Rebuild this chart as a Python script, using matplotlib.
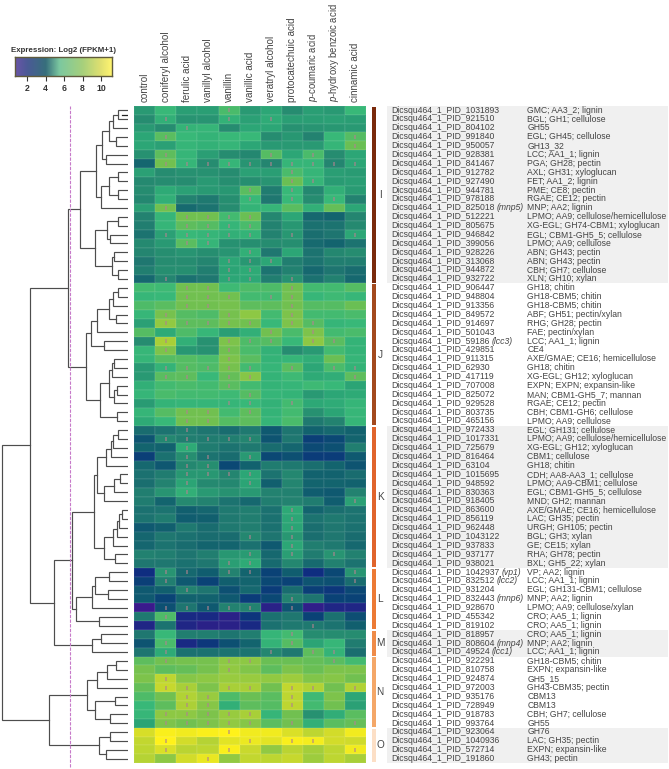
import numpy as np
import matplotlib
matplotlib.use("Agg")
import matplotlib.pyplot as plt
from matplotlib.colors import LinearSegmentedColormap

plt.rcParams["font.family"] = ["Liberation Sans", "DejaVu Sans"]
plt.rcParams["mathtext.fontset"] = "custom"
plt.rcParams["mathtext.rm"] = "Liberation Sans"
plt.rcParams["mathtext.it"] = "Liberation Sans:italic"
plt.rcParams["mathtext.bf"] = "Liberation Sans:bold"

W, H = 669, 769

# ---------------------------------------------------------------------------
# Data
# ---------------------------------------------------------------------------
conditions = ["control", "coniferyl alcohol", "ferulic acid", "vanillyl alcohol",
              "vanillin", "vanillic acid", "veratryl alcohol", "protocatechuic acid",
              r"$\it{p}$-coumaric acid", r"$\it{p}$-hydroxy benzoic acid", "cinnamic acid"]

cluster_names = ["I", "J", "K", "L", "M", "N", "O"]
cluster_sizes = [20, 16, 16, 7, 3, 8, 4]
cluster_colors = ["#7a2a0c", "#a3491d", "#e0642c", "#ec7a35", "#ef8b48", "#f4a768", "#fcdfc6"]

heat_I = [
    [5.5, 7.0, 5.7, 5.7, 7.3, 5.5, 6.0, 5.0, 5.7, 5.5, 7.0],
    [5.0, 6.5, 5.3, 5.3, 6.6, 5.8, 6.3, 5.7, 5.7, 5.8, 5.7],
    [5.5, 5.0, 6.7, 6.8, 5.0, 6.0, 6.0, 5.2, 5.3, 5.4, 5.5],
    [6.0, 7.6, 7.0, 6.7, 7.0, 7.0, 5.0, 5.4, 4.6, 7.0, 7.5],
    [6.0, 5.8, 6.8, 6.6, 6.8, 6.0, 5.5, 5.5, 5.5, 6.8, 7.9],
    [5.2, 7.7, 6.8, 5.7, 5.0, 4.8, 7.5, 6.0, 7.3, 5.0, 6.0],
    [3.3, 8.0, 6.8, 5.0, 6.8, 5.3, 4.7, 6.8, 6.8, 4.7, 6.0],
    [5.8, 5.0, 5.2, 5.2, 5.0, 5.8, 5.7, 7.3, 6.8, 5.7, 5.6],
    [4.9, 5.0, 5.0, 5.5, 5.1, 5.1, 5.3, 7.9, 6.8, 5.6, 5.7],
    [5.0, 6.2, 5.8, 5.5, 5.4, 7.6, 4.3, 7.0, 4.8, 6.5, 5.6],
    [4.8, 6.5, 4.6, 4.2, 5.1, 7.0, 4.1, 7.0, 5.0, 7.0, 4.6],
    [5.7, 8.0, 3.5, 3.9, 5.0, 6.7, 6.8, 7.6, 6.5, 7.8, 6.0],
    [4.6, 6.8, 8.0, 8.0, 7.2, 7.9, 4.8, 6.0, 3.4, 3.2, 4.7],
    [4.4, 6.8, 7.7, 7.5, 6.8, 7.3, 4.6, 5.4, 3.8, 3.9, 4.9],
    [3.9, 5.8, 7.0, 6.8, 6.5, 6.7, 4.6, 5.4, 3.7, 4.0, 6.0],
    [4.9, 5.5, 7.6, 6.8, 5.2, 5.1, 5.0, 5.1, 3.5, 3.2, 3.9],
    [4.7, 5.1, 5.3, 5.1, 5.3, 6.5, 4.1, 6.0, 3.9, 4.8, 5.0],
    [4.1, 5.0, 5.0, 4.7, 6.0, 5.4, 6.0, 4.4, 3.9, 4.4, 4.4],
    [4.4, 5.1, 5.1, 4.4, 5.9, 6.2, 3.9, 4.5, 3.4, 4.0, 3.6],
    [3.4, 4.7, 3.8, 4.1, 6.0, 6.1, 4.4, 5.2, 3.8, 4.5, 3.4],
]
heat_J = [
    [7.2, 7.1, 8.0, 8.0, 7.1, 7.4, 7.4, 8.0, 7.2, 7.2, 7.5],
    [6.9, 7.0, 8.0, 8.0, 8.0, 7.2, 7.2, 8.0, 6.9, 7.1, 6.9],
    [7.4, 7.6, 8.0, 8.0, 8.1, 7.7, 7.7, 8.0, 7.5, 7.5, 7.9],
    [6.9, 8.1, 7.5, 7.4, 8.1, 8.5, 7.2, 8.2, 7.2, 7.2, 7.3],
    [5.8, 8.6, 7.7, 7.7, 8.1, 8.0, 7.0, 8.2, 7.5, 6.8, 7.0],
    [7.5, 6.2, 7.4, 6.9, 5.7, 6.5, 8.0, 7.3, 8.2, 7.2, 7.3],
    [5.0, 9.0, 6.5, 5.2, 8.2, 7.4, 7.5, 7.0, 8.5, 7.6, 6.7],
    [6.9, 8.2, 5.4, 5.2, 8.0, 7.3, 6.6, 5.0, 5.5, 7.2, 6.7],
    [6.8, 7.5, 7.5, 7.3, 8.2, 7.6, 6.7, 6.8, 6.4, 7.9, 6.8],
    [5.5, 6.7, 7.5, 7.4, 8.1, 7.2, 6.8, 7.6, 6.0, 7.3, 6.7],
    [5.5, 7.6, 7.7, 7.0, 7.8, 8.4, 6.7, 7.1, 6.2, 6.4, 7.7],
    [6.5, 7.2, 7.3, 7.2, 7.6, 7.2, 6.7, 6.8, 7.1, 7.0, 5.9],
    [6.8, 7.3, 7.2, 7.2, 7.1, 7.5, 6.8, 6.7, 5.5, 6.0, 6.2],
    [5.6, 6.7, 6.8, 6.8, 6.8, 7.0, 6.6, 7.2, 6.1, 6.3, 6.8],
    [6.8, 7.5, 8.0, 8.0, 7.2, 7.7, 6.7, 7.2, 5.2, 5.9, 6.9],
    [6.2, 7.0, 8.0, 8.0, 7.5, 7.7, 6.8, 7.3, 4.2, 4.6, 6.8],
]
heat_K = [
    [3.6, 3.9, 4.4, 4.0, 3.6, 4.2, 2.8, 4.0, 3.1, 3.4, 3.1],
    [2.6, 4.8, 4.4, 4.3, 4.4, 4.7, 2.6, 4.1, 1.9, 2.2, 3.2],
    [3.2, 3.1, 6.2, 4.3, 3.9, 4.2, 3.6, 3.3, 2.3, 2.5, 4.4],
    [1.9, 3.8, 5.1, 3.9, 3.6, 5.5, 2.2, 2.5, 1.8, 1.8, 2.8],
    [3.4, 2.7, 4.8, 5.1, 2.2, 3.1, 4.3, 4.2, 3.7, 3.2, 2.6],
    [3.8, 4.3, 5.4, 5.4, 4.7, 6.0, 3.9, 4.8, 3.1, 3.1, 3.6],
    [3.7, 4.6, 5.9, 4.9, 4.8, 5.9, 3.0, 4.7, 3.2, 3.2, 3.1],
    [4.4, 5.3, 6.5, 5.5, 5.2, 5.5, 4.6, 4.5, 2.9, 2.8, 4.6],
    [4.3, 3.2, 4.9, 4.6, 3.9, 3.4, 4.4, 4.6, 4.3, 2.9, 5.8],
    [3.8, 3.9, 3.0, 3.3, 4.2, 4.4, 3.8, 6.1, 3.2, 3.7, 3.9],
    [3.9, 4.3, 2.9, 3.0, 4.2, 4.4, 3.8, 6.0, 3.9, 4.2, 3.9],
    [2.8, 3.0, 4.2, 3.6, 4.2, 4.4, 3.8, 5.9, 3.7, 4.1, 3.8],
    [3.3, 4.1, 3.8, 3.6, 3.6, 4.8, 4.0, 5.4, 3.7, 4.1, 3.6],
    [3.3, 3.9, 3.6, 3.2, 3.2, 3.8, 2.8, 6.0, 4.4, 4.2, 3.4],
    [4.5, 4.4, 4.0, 4.4, 5.4, 5.6, 3.4, 5.7, 4.3, 5.3, 4.5],
    [4.1, 4.1, 3.8, 4.1, 5.7, 6.2, 3.5, 4.8, 3.5, 4.5, 3.9],
]
heat_L = [
    [1.2, 5.3, 3.4, 2.9, 4.6, 3.2, 2.0, 2.9, 1.2, 2.2, 5.3],
    [1.9, 4.4, 2.8, 2.0, 3.0, 3.2, 2.2, 2.0, 2.6, 2.5, 3.6],
    [2.8, 3.0, 4.6, 4.0, 2.5, 3.4, 1.8, 3.6, 1.9, 1.6, 2.2],
    [2.8, 2.1, 3.1, 3.1, 2.8, 1.8, 2.2, 4.6, 4.0, 2.0, 2.0],
    [0.7, 2.5, 4.0, 2.8, 4.6, 4.6, 0.9, 2.6, 0.8, 1.0, 1.0],
    [4.2, 7.4, 1.1, 1.1, 0.9, 1.5, 3.8, 4.1, 2.0, 3.8, 2.4],
    [1.0, 3.9, 1.0, 0.9, 0.9, 1.1, 3.8, 4.2, 4.2, 3.9, 3.0],
]
heat_M = [
    [4.1, 7.0, 4.4, 4.4, 4.0, 4.4, 6.8, 7.2, 5.0, 5.0, 5.0],
    [2.6, 7.3, 1.1, 1.6, 2.5, 3.2, 6.7, 7.5, 5.9, 6.9, 4.3],
    [4.0, 6.2, 3.8, 3.8, 3.9, 3.9, 4.8, 4.2, 7.7, 6.7, 3.7],
]
heat_N = [
    [7.7, 8.0, 8.1, 8.1, 8.5, 8.5, 7.9, 7.9, 7.8, 7.6, 7.2],
    [8.1, 7.7, 7.8, 8.1, 8.6, 8.3, 7.7, 8.2, 7.9, 8.2, 8.2],
    [8.2, 9.5, 8.4, 8.5, 8.7, 8.7, 8.6, 8.8, 8.3, 8.4, 8.0],
    [7.8, 9.7, 9.0, 8.2, 9.0, 9.0, 8.0, 9.6, 9.2, 8.0, 9.2],
    [7.4, 8.0, 9.2, 8.7, 7.4, 7.9, 7.6, 9.5, 7.1, 8.2, 6.0],
    [7.0, 7.7, 9.1, 8.4, 6.5, 7.7, 7.5, 9.5, 7.2, 8.0, 5.8],
    [6.9, 8.5, 8.5, 8.2, 8.7, 9.0, 6.8, 8.0, 5.2, 6.4, 7.6],
    [5.9, 8.2, 8.0, 8.2, 8.6, 8.4, 7.6, 8.0, 6.5, 7.6, 7.8],
]
heat_O = [
    [10.1, 11.0, 10.8, 11.0, 11.2, 10.8, 10.8, 10.2, 9.5, 10.0, 10.8],
    [9.6, 11.2, 10.0, 9.3, 10.4, 10.7, 10.4, 11.0, 10.9, 10.0, 9.9],
    [9.5, 10.2, 9.4, 9.5, 11.0, 9.8, 8.6, 9.4, 8.9, 9.5, 10.8],
    [9.3, 8.5, 10.0, 10.6, 8.6, 9.6, 9.5, 9.7, 8.8, 9.5, 9.0],
]

# columns holding a significance mark, one list per row
sig_I = [[4], [1, 4, 6], [2], [1, 10], [10], [1, 6, 8], [1, 2, 3, 4, 5, 6, 7, 8, 9, 10],
         [7], [7, 8], [5, 7], [5, 7, 9], [1], [2, 3, 4, 5], [2, 3, 4, 5],
         [1, 2, 3, 4, 5, 7, 10], [2, 3], [5], [4, 5, 6], [4, 5], [1, 4, 5, 7]]
sig_J = [[2, 3, 7], [2, 3, 4, 6, 7], [2, 3, 7], [1, 4, 7], [1, 2, 3, 4, 5, 7, 8],
         [6, 8], [1, 4, 5, 6, 8, 9], [1, 4], [4], [1, 2, 3, 4, 5, 7, 9, 10],
         [1, 2, 4, 5, 10], [4], [5], [4, 5, 7], [2, 3, 5], [2, 3]]
sig_K = [[2], [1, 2, 3, 4, 5], [2], [2, 3, 5], [2, 3], [2, 3, 4, 5], [2, 5], [2],
         [10], [7], [7], [7], [5, 7], [7], [5, 7, 9], [4, 5]]
sig_L = [[1, 2, 4, 5, 10], [1, 10], [2], [7], [1, 2, 3, 4, 5, 7], [1], [8]]
sig_M = [[7], [1, 7], [1, 6, 8, 9]]
sig_N = [[1, 4, 5, 9], [4], [1], [1, 2, 4, 5, 7, 8, 10], [2, 3, 7], [2, 3, 7],
         [1, 2, 3, 4, 5], [1, 2, 3, 4, 5, 7, 10]]
sig_O = [[4], [1, 5, 7, 8], [1, 4, 10], [3]]

gene_ids = ["1031893", "921510", "804102", "991840", "950057", "928381", "841467", "912782",
            "927490", "944781", "978188", "825018", "512221", "805675", "946842", "399056",
            "928226", "313068", "944872", "932722",
            "906447", "948804", "913356", "849572", "914697", "501043", "59186", "429851",
            "911315", "62930", "417119", "707008", "825072", "929528", "803735", "465156",
            "972433", "1017331", "725679", "816464", "63104", "1015695", "948592", "830363",
            "918405", "863600", "856119", "962448", "1043122", "937833", "937177", "938021",
            "1042937", "832512", "931204", "832443", "928670", "455342", "819102",
            "818957", "808604", "49524",
            "922291", "810758", "924874", "972003", "935176", "728949", "918783", "993764",
            "923064", "1040936", "572714", "191860"]
gene_symbols = {"825018": "mnp5", "59186": "lcc3", "1042937": "vp1", "832512": "lcc2",
                "832443": "mnp6", "808604": "mnp4", "49524": "lcc1"}
annotations = ["GMC; AA3_2; lignin", "BGL; GH1; cellulose", "GH55", "EGL; GH45; cellulose",
               "GH13_32", "LCC; AA1_1; lignin", "PGA; GH28; pectin", "AXL; GH31; xyloglucan",
               "FET; AA1_2; lignin", "PME; CE8; pectin", "RGAE; CE12; pectin", "MNP; AA2; lignin",
               "LPMO; AA9; cellulose/hemicellulose", "XG-EGL; GH74-CBM1; xyloglucan",
               "EGL; CBM1-GH5_5; cellulose", "LPMO; AA9; cellulose", "ABN; GH43; pectin",
               "ABN; GH43; pectin", "CBH; GH7; cellulose", "XLN; GH10; xylan",
               "GH18; chitin", "GH18-CBM5; chitin", "GH18-CBM5; chitin", "ABF; GH51; pectin/xylan",
               "RHG; GH28; pectin", "FAE; pectin/xylan", "LCC; AA1_1; lignin", "CE4",
               "AXE/GMAE; CE16; hemicellulose", "GH18; chitin", "XG-EGL; GH12; xyloglucan",
               "EXPN; EXPN; expansin-like", "MAN; CBM1-GH5_7; mannan", "RGAE; CE12; pectin",
               "CBH; CBM1-GH6; cellulose", "LPMO; AA9; cellulose",
               "EGL; GH131; cellulose", "LPMO; AA9; cellulose/hemicellulose",
               "XG-EGL; GH12; xyloglucan", "CBM1; cellulose", "GH18; chitin",
               "CDH; AA8-AA3_1; cellulose", "LPMO; AA9-CBM1; cellulose",
               "EGL; CBM1-GH5_5; cellulose", "MND; GH2; mannan", "AXE/GMAE; CE16; hemicellulose",
               "LAC; GH35; pectin", "URGH; GH105; pectin", "BGL; GH3; xylan", "GE; CE15; xylan",
               "RHA; GH78; pectin", "BXL; GH5_22; xylan",
               "VP; AA2; lignin", "LCC; AA1_1; lignin", "EGL; GH131-CBM1; cellulose",
               "MNP; AA2; lignin", "LPMO; AA9; cellulose/xylan", "CRO; AA5_1; lignin",
               "CRO; AA5_1; lignin",
               "CRO; AA5_1; lignin", "MNP; AA2; lignin", "LCC; AA1_1; lignin",
               "GH18-CBM5; chitin", "EXPN; expansin-like", "GH5_15", "GH43-CBM35; pectin",
               "CBM13", "CBM13", "CBH; GH7; cellulose", "GH55",
               "GH76", "LAC; GH35; pectin", "EXPN; expansin-like", "GH43; pectin"]

# dendrogram, nested as (merge distance, upper branch, lower branch); ints are row numbers
tree_I = (32,
          (26, (19, (15, (10, 0, 1), 2), (12, 3, 4)), (21.7, 5, 6)),
          (27, (18.7, (10, 7, 8), (10, 9, 10)), 11))
tree_Ib = (33,
           (21, (10, 12, 13), (18, 14, 15)),
           (15.3, (13.7, 16, 17), (10, 18, 19)))
tree_J = (36.3,
          (30.3, (18.3, (14.3, (10, 20, 21), 22), (12, 23, 24)), 25),
          (23.7, 26, 27))
tree_Jb = (27.7,
           (18.3, (16, (13.3, 28, 29), 30), (13.7, (11, 31, 32), 33)),
           (11, 34, 35))
tree_K = (34,
          (30.7,
           (21.7, (16.7, (15, (10, 36, 37), 38), 39), 40),
           (23.7, (13.3, (7.7, 41, 42), 43), 44)),
          (23.3,
           (14.3, (10.3, (8.7, (6, 45, 46), 47), 48), 49),
           (12.3, 50, 51)))
tree_L = (51.7,
          (35.7, (33, (18.3, 52, 53), (19.3, 54, 55)), 56),
          (28.3, 57, 58))
tree_M = (36, (26.7, 59, 60), 61)
tree_N = (40.7,
          (30.3, (20.3, (12, 62, 63), 64), 65),
          (33, (12.7, 66, 67), (17.3, 68, 69)))
tree_O = (29, (17.3, 70, 71), (22, 72, 73))
tree_all = (125.3,
            (98,
             (60, (47.3, tree_I, tree_Ib), (41.7, tree_J, tree_Jb)),
             (74, (55.3, tree_K, tree_L), tree_M)),
            (79, tree_N, tree_O))
tree_stub = (5.3, 1.0)  # short dash between the first two rows


def draw_tree(ax, node):
    # returns (distance, row position) of the node, draws its two branches
    if isinstance(node, int):
        return 0.0, node + 0.5
    h, a, b = node
    ha, ya = draw_tree(ax, a)
    hb, yb = draw_tree(ax, b)
    ax.plot([ha, h, h, hb], [ya, ya, yb, yb], color="#4d4d4d", lw=0.85, solid_joinstyle="miter")
    return h, (ya + yb) / 2


heat = np.array(heat_I + heat_J + heat_K + heat_L + heat_M + heat_N + heat_O)
sig = sig_I + sig_J + sig_K + sig_L + sig_M + sig_N + sig_O

VMIN, VMAX = 0.66, 11.2
stops = [(0.66, "#3a1a8c"), (1.2, "#0f2d80"), (2.0, "#0a4276"), (3.0, "#11606e"), (4.0, "#1e7570"),
         (5.0, "#268c70"), (6.0, "#2ca676"), (7.0, "#38b878"), (8.0, "#70c050"), (9.0, "#a8cf38"),
         (10.0, "#d2dc2a"), (11.2, "#fff21a")]
heat_cmap = LinearSegmentedColormap.from_list(
    "heat", [((v - VMIN) / (VMAX - VMIN), c) for v, c in stops])
legend_stops = [(0.66, "#6a55a8"), (2.0, "#4b5a96"), (4.0, "#376f7c"), (5.5, "#7cc8a0"), (8.0, "#a6d07c"),
                (10.0, "#e0e070"), (11.2, "#fff570")]
legend_cmap = LinearSegmentedColormap.from_list(
    "legend", [((v - VMIN) / (VMAX - VMIN), c) for v, c in legend_stops])


def px_axes(x0, y0, x1, y1):
    return fig.add_axes([x0 / W, 1 - y1 / H, (x1 - x0) / W, (y1 - y0) / H])


fig = plt.figure(figsize=(W / 100, H / 100), dpi=100)
TOP, BOTTOM = 105.8, 763.2
n_rows = len(heat)
TEXT = "#444444"

# ---------------------------------------------------------------------------
# Heatmap
# ---------------------------------------------------------------------------
ax = px_axes(134.3, TOP, 366, BOTTOM)
ax.pcolormesh(np.arange(12), np.arange(n_rows + 1), heat, cmap=heat_cmap, vmin=VMIN, vmax=VMAX,
              edgecolors=(1, 1, 1, 0.05), linewidth=0.3)
ax.set_xlim(0, 11)
ax.set_ylim(n_rows, 0)
sx = [c + 0.5 for r, cols in enumerate(sig) for c in cols]
sy = [r + 0.5 for r, cols in enumerate(sig) for c in cols]
ax.scatter(sx, sy, marker="|", s=6, linewidths=1.1, color="#b08390", alpha=0.75)
ax.xaxis.tick_top()
ax.set_xticks(np.arange(11) + 0.5, conditions, rotation=90, fontsize=7.15, color=TEXT)
for lab in ax.get_xticklabels():
    if "$" in lab.get_text():
        lab.set_fontsize(6.85)
ax.tick_params(length=0, pad=3)
ax.set_yticks([])
for s in ax.spines.values():
    s.set_visible(False)

# ---------------------------------------------------------------------------
# Dendrogram + cut line
# ---------------------------------------------------------------------------
ax_t = px_axes(0, TOP, 127.7, BOTTOM)
draw_tree(ax_t, tree_all)
ax_t.plot([tree_stub[0], 0], [tree_stub[1], tree_stub[1]], color="#222222", lw=0.9)
ax_t.axvline(57.4, ymin=-0.006, ymax=1.0, color="#c77ac9", lw=0.8, ls=(0, (3, 1.2)), clip_on=False)
ax_t.set_xlim(127.7, 0)
ax_t.set_ylim(n_rows, 0)
ax_t.axis("off")

# ---------------------------------------------------------------------------
# Cluster bars, grey bands and row labels
# ---------------------------------------------------------------------------
ax_s = px_axes(369, TOP, 669, BOTTOM)
ax_s.set_xlim(369, 669)
ax_s.set_ylim(n_rows, 0)
ax_s.axis("off")
start = 0
for i, (name, size, color) in enumerate(zip(cluster_names, cluster_sizes, cluster_colors)):
    if i % 2 == 0:
        ax_s.barh(start + size / 2, 281, left=387, height=size, color="#f0f0f0", lw=0)
    ax_s.barh(start + size / 2, 4.4, left=371.7, height=size - 0.2, color=color, lw=0)
    ax_s.text(380, start + size / 2, name, ha="center", va="center", fontsize=7.2, color=TEXT)
    start += size

renderer = fig.canvas.get_renderer()
BASE = 0.76  # baseline inside a row, so the plain and italic pieces line up
for r, (gid, note) in enumerate(zip(gene_ids, annotations)):
    t = ax_s.text(391.7, r + BASE, f"Dicsqu464_1_PID_{gid}", ha="left", va="baseline",
                  fontsize=6.2, color=TEXT)
    ax_s.text(527.3, r + BASE, note, ha="left", va="baseline", fontsize=6.2, color=TEXT)
    if gid in gene_symbols:
        x_end = ax_s.transData.inverted().transform(t.get_window_extent(renderer).corners()[-1])[0]
        ax_s.text(x_end + 1.5, r + BASE, f"({gene_symbols[gid]})", ha="left", va="baseline",
                  fontsize=6.2, style="italic", color=TEXT)

# ---------------------------------------------------------------------------
# Colour legend
# ---------------------------------------------------------------------------
ax_c = px_axes(15, 57, 112, 76)
ax_c.imshow(np.linspace(VMIN, VMAX, 256)[None, :], extent=[VMIN, VMAX, 0, 1], aspect="auto",
            cmap=legend_cmap, vmin=VMIN, vmax=VMAX)
ax_c.set_yticks([])
ax_c.set_xticks([2, 4, 6, 8, 10])
ax_c.tick_params(axis="x", length=3.5, width=0.8, pad=2, labelsize=6.2, color="#333333", labelcolor="#333333")
for lab in ax_c.get_xticklabels():
    lab.set_fontweight("bold")
for s in ax_c.spines.values():
    s.set_color("#5f5a3c")
    s.set_linewidth(1.0)
ax_c.set_title("Expression: Log2 (FPKM+1)", fontsize=5.7, fontweight="bold", color="#333333", pad=3.5)

plt.savefig("out.png", dpi=100)
plt.close()
